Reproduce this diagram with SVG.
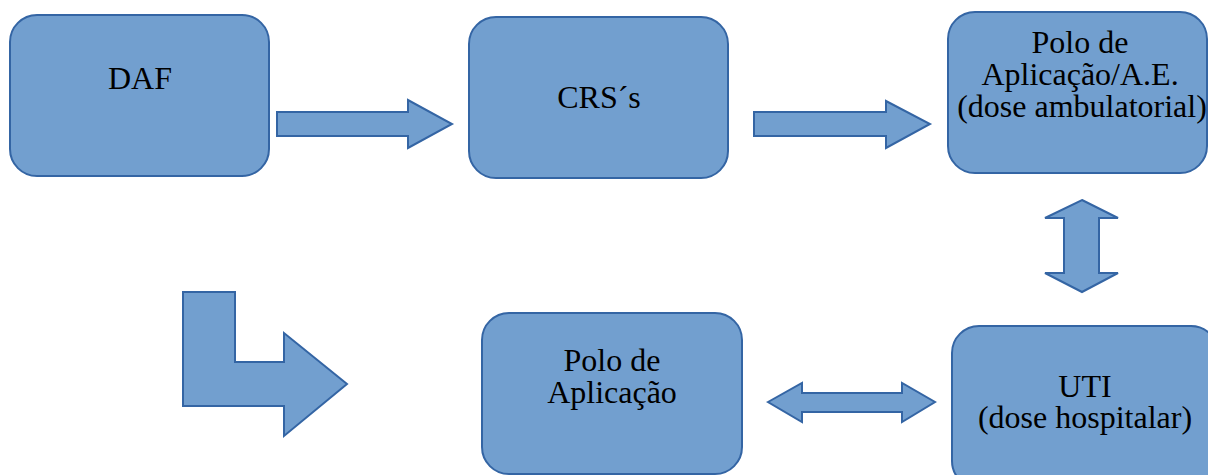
<svg xmlns="http://www.w3.org/2000/svg" width="1208" height="475" viewBox="0 0 1208 475">
  <style>
    .box { fill: #729fcf; stroke: #3465a4; stroke-width: 2; }
    .arrow { fill: #729fcf; stroke: #3465a4; stroke-width: 2; stroke-linejoin: miter; }
    .label { font-family: "Liberation Serif", "Times New Roman", serif; font-size: 32px; fill: #000000; text-anchor: middle; }
  </style>
  <rect width="1208" height="475" fill="#ffffff"/>
  <g id="connectors">
    <polygon class="arrow" points="277,112 408,112 408,100 452,124 408,148 408,136 277,136"/>
    <polygon class="arrow" points="754,112 886,112 886,101 930,124 886,148 886,136 754,136"/>
    <polygon class="arrow" points="1082,200 1118,218 1099,218 1099,273 1118,273 1082,292 1045,273 1064,273 1064,218 1045,218"/>
    <polygon class="arrow" points="768,402 802,383 802,393 902,393 902,383 935,402 902,422 902,412 802,412 802,422"/>
    <polygon class="arrow" points="183,292 235,292 235,362 284,362 284,333 347,384 284,436 284,406 183,406"/>
  </g>
  <g id="node-daf">
    <rect class="box" x="10" y="15" width="259" height="161" rx="27" ry="27"/>
    <text class="label" x="140" y="89">DAF</text>
  </g>
  <g id="node-crs">
    <rect class="box" x="469" y="17" width="259" height="161" rx="27" ry="27"/>
    <text class="label" x="599" y="108">CRS´s</text>
  </g>
  <g id="node-polo-ae">
    <rect class="box" x="948" y="12" width="259" height="161" rx="27" ry="27"/>
    <text class="label" x="1080" y="53">Polo de</text>
    <text class="label" x="1080" y="85">Aplicação/A.E.</text>
    <text class="label" x="1082" y="117">(dose ambulatorial)</text>
  </g>
  <g id="node-polo">
    <rect class="box" x="482" y="313" width="260" height="161" rx="27" ry="27"/>
    <text class="label" x="612" y="371">Polo de</text>
    <text class="label" x="612" y="403">Aplicação</text>
  </g>
  <g id="node-uti">
    <rect class="box" x="952" y="326" width="266" height="162" rx="27" ry="27"/>
    <text class="label" x="1085" y="397">UTI</text>
    <text class="label" x="1085" y="428">(dose hospitalar)</text>
  </g>
</svg>
